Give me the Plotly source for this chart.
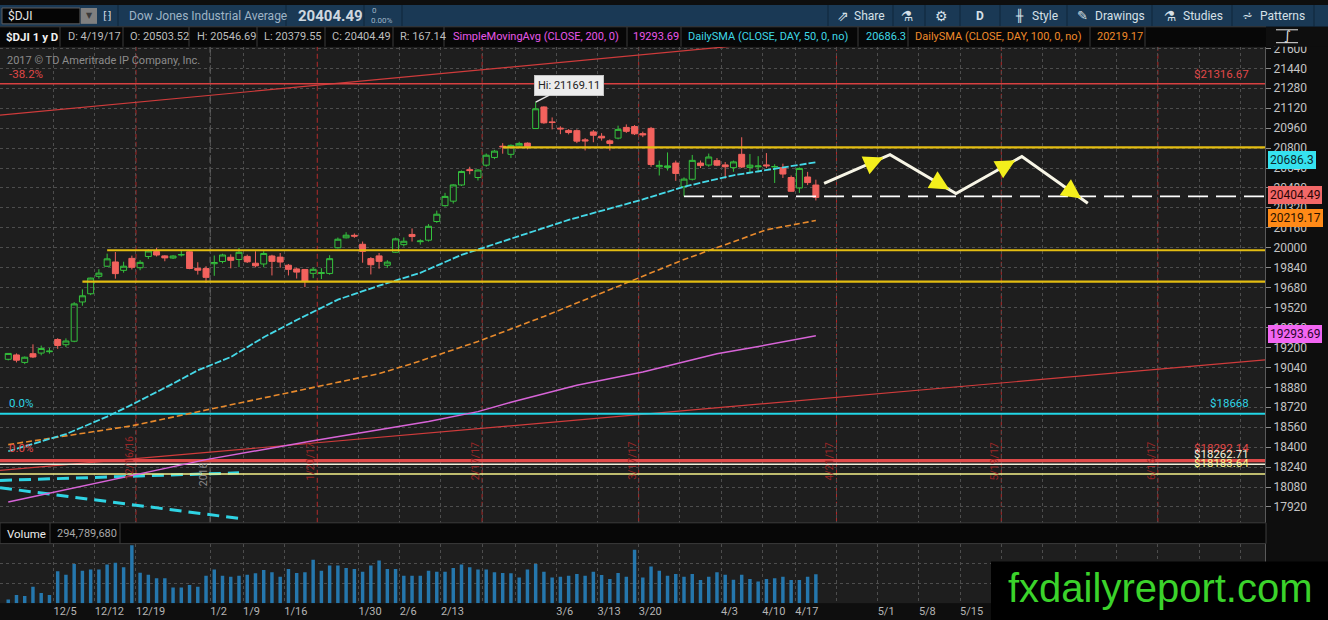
import plotly.graph_objects as go

W, H = 1328, 620
FONT = "Roboto"

# ---------------- data ----------------
dates = ["11/25/16", "11/28/16", "11/29/16", "11/30/16",
         "12/1/16", "12/2/16", "12/5/16", "12/6/16", "12/7/16", "12/8/16", "12/9/16", "12/12/16", "12/13/16",
         "12/14/16", "12/15/16", "12/16/16", "12/19/16", "12/20/16", "12/21/16", "12/22/16", "12/23/16",
         "12/27/16", "12/28/16", "12/29/16", "12/30/16",
         "1/3/17", "1/4/17", "1/5/17", "1/6/17", "1/9/17", "1/10/17", "1/11/17", "1/12/17", "1/13/17",
         "1/17/17", "1/18/17", "1/19/17", "1/20/17", "1/23/17", "1/24/17", "1/25/17", "1/26/17", "1/27/17",
         "1/30/17", "1/31/17",
         "2/1/17", "2/2/17", "2/3/17", "2/6/17", "2/7/17", "2/8/17", "2/9/17", "2/10/17", "2/13/17", "2/14/17",
         "2/15/17", "2/16/17", "2/17/17", "2/21/17", "2/22/17", "2/23/17", "2/24/17", "2/27/17", "2/28/17",
         "3/1/17", "3/2/17", "3/3/17", "3/6/17", "3/7/17", "3/8/17", "3/9/17", "3/10/17", "3/13/17", "3/14/17",
         "3/15/17", "3/16/17", "3/17/17", "3/20/17", "3/21/17", "3/22/17", "3/23/17", "3/24/17", "3/27/17",
         "3/28/17", "3/29/17", "3/30/17", "3/31/17",
         "4/3/17", "4/4/17", "4/5/17", "4/6/17", "4/7/17", "4/10/17", "4/11/17", "4/12/17", "4/13/17",
         "4/17/17", "4/18/17", "4/19/17"]

future_dates = ["4/20/17", "4/21/17", "4/24/17", "4/25/17", "4/26/17", "4/27/17", "4/28/17",
                "5/1/17", "5/2/17", "5/3/17", "5/4/17", "5/5/17", "5/8/17", "5/9/17", "5/10/17", "5/11/17",
                "5/12/17", "5/15/17", "5/16/17", "5/17/17", "5/18/17", "5/19/17", "5/22/17", "5/23/17",
                "5/24/17", "5/25/17", "5/26/17", "5/30/17", "5/31/17", "6/1/17", "6/2/17", "6/5/17", "6/6/17",
                "6/7/17", "6/8/17", "6/9/17", "6/12/17", "6/13/17", "6/14/17", "6/15/17", "6/16/17",
                "6/19/17", "6/20/17", "6/21/17", "6/22/17", "6/23/17", "6/26/17", "6/27/17", "6/28/17",
                "6/29/17", "6/30/17", "7/3/17", "7/5/17", "7/6/17", "7/7/17"]

opens = [19105, 19140, 19080, 19150, 19155, 19166, 19264, 19222, 19250, 19565,
         19631, 19771, 19852, 19886, 19819, 19915, 19840, 19930, 19970, 19935,
         19918, 19943, 19968, 19835, 19833, 19872, 19890, 19924, 19906, 19931,
         19876, 19870, 19934, 19925, 19860, 19830, 19826, 19795, 19794, 19794,
         20000, 20080, 20100, 20028, 19913, 19935, 19860, 19964, 20025, 20107,
         20049, 20061, 20211, 20338, 20374, 20504, 20627, 20564, 20663, 20725,
         20815, 20750, 20818, 20840, 20957, 21130, 21010, 20960, 20942, 20940,
         20866, 20930, 20895, 20858, 20880, 20966, 20973, 20916, 20958, 20650,
         20645, 20680, 20490, 20550, 20680, 20664, 20699, 20665, 20643, 20750,
         20645, 20650, 20665, 20650, 20643, 20564, 20480, 20568, 20503.52]

highs = [19153, 19152, 19128, 19225, 19215, 19197, 19274, 19273, 19564, 19666,
         19760, 19828, 19953, 19966, 19888, 19937, 19900, 19987, 19999, 19940,
         19940, 19981, 19981, 19884, 19852, 19938, 19952, 19947, 19999, 19945,
         19972, 19973, 19944, 19958, 19870, 19840, 19826, 19843, 19836, 19940,
         20082, 20125, 20115, 20050, 19925, 19958, 19900, 20081, 20083, 20155,
         20068, 20190, 20298, 20441, 20510, 20620, 20650, 20630, 20757, 20786,
         20840, 20830, 20851, 20846, 21169.11, 21135, 21046, 20975, 20952, 20950,
         20880, 20945, 20920, 20870, 20980, 20990, 20985, 20932, 20970, 20700,
         20765, 20700, 20565, 20745, 20700, 20756, 20720, 20688, 20700, 20887,
         20752, 20735, 20760, 20670, 20675, 20580, 20645, 20609, 20546.69]

lows = [19096, 19080, 19066, 19115, 19137, 19150, 19189, 19203, 19242, 19535,
        19620, 19752, 19847, 19752, 19800, 19826, 19820, 19910, 19930, 19892,
        19910, 19930, 19828, 19785, 19718, 19775, 19875, 19835, 19845, 19878,
        19843, 19844, 19778, 19840, 19778, 19753, 19685, 19756, 19749, 19784,
        19995, 20075, 20080, 19880, 19786, 19832, 19839, 19960, 20010, 20050,
        20025, 20050, 20200, 20330, 20355, 20496, 20590, 20540, 20650, 20711,
        20755, 20720, 20800, 20790, 20957, 20995, 20950, 20912, 20910, 20840,
        20781, 20847, 20860, 20780, 20870, 20922, 20905, 20888, 20650, 20580,
        20620, 20537, 20412.8, 20540, 20640, 20650, 20655, 20555, 20610, 20640,
        20600, 20605, 20640, 20520, 20560, 20450, 20440, 20503, 20379.55]

closes = [19152.14, 19097.90, 19121.60, 19123.58, 19191.93, 19170.42, 19216.24, 19251.78, 19549.62, 19614.81,
          19756.85, 19796.43, 19911.21, 19792.53, 19852.24, 19843.41, 19883.06, 19974.62, 19941.96, 19918.88,
          19933.81, 19945.04, 19833.68, 19819.78, 19762.60, 19881.76, 19942.16, 19899.29, 19963.80, 19887.38,
          19855.53, 19954.28, 19891.00, 19885.73, 19826.77, 19804.72, 19732.40, 19827.25, 19799.85, 19912.71,
          20068.51, 20100.91, 20093.78, 19971.13, 19864.09, 19890.94, 19884.91, 20071.46, 20052.42, 20090.29,
          20054.34, 20172.40, 20269.37, 20412.16, 20504.41, 20611.86, 20619.77, 20624.05, 20743.00, 20775.60,
          20810.32, 20821.76, 20837.44, 20812.24, 21115.55, 21002.97, 21005.71, 20954.34, 20924.76, 20855.73,
          20858.19, 20902.98, 20881.48, 20837.37, 20950.10, 20934.55, 20914.62, 20905.86, 20668.01, 20661.30,
          20656.58, 20596.72, 20550.98, 20701.50, 20659.32, 20728.49, 20663.22, 20650.21, 20689.24, 20648.15,
          20662.95, 20656.10, 20658.02, 20651.30, 20591.86, 20453.25, 20636.92, 20523.28, 20404.49]

volume_m = [38, 83, 72, 166, 104, 83, 324, 290, 400, 331,
            342, 342, 393, 411, 366, 590, 311, 290, 255, 255,
            159, 159, 186, 166, 279, 342, 279, 269, 279, 290,
            304, 338, 314, 269, 348, 307, 314, 442, 331, 383,
            383, 359, 348, 321, 383, 435, 348, 348, 279, 279,
            279, 331, 321, 321, 359, 393, 366, 342, 342, 314,
            307, 304, 262, 342, 400, 321, 262, 269, 279, 297,
            279, 321, 286, 245, 307, 269, 545, 262, 373, 331,
            279, 297, 269, 297, 235, 269, 314, 290, 238, 290,
            245, 221, 245, 255, 269, 235, 235, 269, 294.79]
volume_last = "294,789,680"

sma50_dates = ["11/25/16", "12/6/16", "12/13/16", "12/16/16", "12/23/16", "12/29/16", "1/5/17", "1/11/17",
               "1/18/17", "1/25/17", "2/1/17", "2/8/17", "2/15/17", "2/23/17", "3/7/17", "3/20/17",
               "3/27/17", "4/4/17", "4/11/17", "4/19/17"]
sma50_vals = [18367, 18505, 18645, 18741, 18910, 19017, 19123, 19282, 19420, 19584, 19696, 19799, 19943,
              20050, 20224, 20388, 20490, 20582, 20635, 20686.3]

sma100_dates = ["11/25/16", "12/16/16", "12/30/16", "1/25/17", "2/1/17", "2/7/17", "2/17/17", "3/2/17",
                "3/14/17", "3/20/17", "3/27/17", "4/3/17", "4/10/17", "4/19/17"]
sma100_vals = [18420, 18571, 18698, 18924, 18990, 19070, 19248, 19449, 19667, 19773, 19906, 20025, 20144,
               20219.17]

sma200_dates = ["11/25/16", "12/30/16", "1/20/17", "2/9/17", "2/17/17", "2/24/17", "3/8/17", "3/20/17",
                "3/31/17", "4/6/17", "4/19/17"]
sma200_vals = [17960, 18300, 18451, 18606, 18685, 18760, 18897, 19003, 19149, 19195, 19293.69]

price_ticks = [17920, 18080, 18240, 18400, 18560, 18720, 18880, 19040, 19200, 19360, 19520, 19680,
               19840, 20000, 20160, 20320, 20480, 20640, 20800, 20960, 21120, 21280, 21440, 21600]

week_labels = ["12/5", "12/12", "12/19", "1/2", "1/9", "1/16", "1/30", "2/6", "2/13", "3/6", "3/13", "3/20",
               "4/3", "4/10", "4/17", "5/1", "5/8", "5/15"]
week_first_days = ["12/5/16", "12/12/16", "12/19/16", "1/3/17", "1/9/17", "1/17/17", "1/30/17", "2/6/17",
                   "2/13/17", "3/6/17", "3/13/17", "3/20/17", "4/3/17", "4/10/17", "4/17/17", "5/1/17",
                   "5/8/17", "5/15/17"]
unlabeled_week_days = ["2/21/17", "2/27/17", "3/27/17", "4/24/17", "5/22/17", "5/30/17", "6/5/17",
                       "6/12/17", "6/19/17", "6/26/17", "7/3/17"]

opex_dates = ["12/16/16", "1/20/17", "2/17/17", "3/17/17", "4/21/17", "5/19/17", "6/16/17"]
year_break_day = "1/3/17"
year_label = "2016"

level_prices = [21316.67, 18668.00, 18292.14, 18262.71, 18183.64]
level_left_labels = ["-38.2%", "0.0%", "0.0%", "", ""]

support_starts = ["12/8/16", "12/13/16", "2/23/17"]
support_prices = [19728, 19980, 20805]
neckline_start = "3/27/17"
neckline_price = 20412.80

channel_upper_dates = ["11/25/16", "3/31/17"]
channel_upper_prices = [21071, 21606]
channel_lower_dates = ["11/25/16", "6/30/17"]
channel_lower_prices = [18219, 19080]
ray_a_dates = ["11/25/16", "1/6/17"]
ray_a_prices = [18135, 18194]
ray_b_dates = ["11/25/16", "1/6/17"]
ray_b_prices = [18066, 17828]

forecast_dates = ["4/20/17", "5/2/17", "5/12/17", "5/24/17", "6/6/17"]
forecast_prices = [20516, 20747, 20436, 20733, 20357]

# ---------------- helpers ----------------
day_list = dates + future_dates
pos = {d: i for i, d in enumerate(day_list)}
xs = [pos[d] for d in dates]
X_MIN, X_MAX = -1.0, 152.5
Y_MIN, Y_MAX = 17793, 21614
XD = 1265 / W

shapes, annots = [], []


def px(x):
    return x / W


def py(y):
    return 1 - y / H


def rect(x0, y0, x1, y1, fill, line=None, layer="above"):
    shapes.append(dict(type="rect", xref="paper", yref="paper", x0=px(x0), x1=px(x1), y0=py(y1), y1=py(y0),
                       fillcolor=fill, line=dict(width=1 if line else 0, color=line or fill), layer=layer))


def seg(x0, y0, x1, y1, color, width=1, layer="above"):
    shapes.append(dict(type="line", xref="paper", yref="paper", x0=px(x0), x1=px(x1), y0=py(y0), y1=py(y1),
                       line=dict(color=color, width=width), layer=layer))


def text(x, y, s, color, size=11, bold=False, anchor="left", family=FONT):
    annots.append(dict(xref="paper", yref="paper", x=px(x), y=py(y), text=("<b>%s</b>" % s) if bold else s,
                       showarrow=False, xanchor=anchor, yanchor="middle",
                       font=dict(color=color, size=size, family=family)))


def line_through(ds, ps, x_from, x_to):
    x0, x1 = pos[ds[0]], pos[ds[1]]
    k = (ps[1] - ps[0]) / (x1 - x0)
    return [x_from, x_to], [ps[0] + k * (x_from - x0), ps[0] + k * (x_to - x0)]


fig = go.Figure()


def add_line(x, y, color, width, dash="solid"):
    fig.add_trace(go.Scatter(x=x, y=y, mode="lines", line=dict(color=color, width=width, dash=dash),
                             xaxis="x", yaxis="y", hoverinfo="skip", showlegend=False))


# trend channel & rays
add_line(*line_through(channel_upper_dates, channel_upper_prices, X_MIN, X_MAX), "#cf3b3b", 1.2)
add_line(*line_through(channel_lower_dates, channel_lower_prices, X_MIN, X_MAX), "#cf3b3b", 1.2)
add_line(*line_through(ray_a_dates, ray_a_prices, X_MIN, pos[ray_a_dates[1]]), "#2fd3e3", 3, "12px,7px")
add_line(*line_through(ray_b_dates, ray_b_prices, X_MIN, pos[ray_b_dates[1]]), "#2fd3e3", 3, "12px,7px")

# horizontal fib levels
level_styles = [("#d84040", 1.5), ("#22d6e6", 2.2), ("#e04a4a", 3.2), ("#f2f0dc", 1.5), ("#f5f08a", 1.5)]
for p, (c, w) in zip(level_prices, level_styles):
    add_line([X_MIN, X_MAX], [p, p], c, w)

# moving averages
add_line([pos[d] for d in sma200_dates], sma200_vals, "#d864d8", 1.5)
add_line([pos[d] for d in sma100_dates], sma100_vals, "#e88a2c", 1.6, "6px,3px")
add_line([pos[d] for d in sma50_dates], sma50_vals, "#45d9e8", 1.8, "7px,2px")

# candles
fig.add_trace(go.Candlestick(x=xs, open=opens, high=highs, low=lows, close=closes, xaxis="x", yaxis="y",
                             increasing=dict(line=dict(color="#34c23d", width=1), fillcolor="rgba(0,0,0,0)"),
                             decreasing=dict(line=dict(color="#f2625d", width=1), fillcolor="#f2625d"),
                             whiskerwidth=0, hoverinfo="skip", showlegend=False))

# support lines and neckline
for d, p in zip(support_starts, support_prices):
    add_line([pos[d], X_MAX], [p, p], "#e3bd12", 2.2)
add_line([pos[neckline_start], X_MAX], [neckline_price, neckline_price], "#ffffff", 1.8, "20px,8px")

# forecast zig-zag
fx = [pos[d] for d in forecast_dates]
add_line(fx, forecast_prices, "#f7f5e6", 3)
for i in range(len(fx) - 1):
    a, b = (fx[i], forecast_prices[i]), (fx[i + 1], forecast_prices[i + 1])
    tip = (a[0] + 0.9 * (b[0] - a[0]), a[1] + 0.9 * (b[1] - a[1]))
    tail = (a[0] + 0.78 * (b[0] - a[0]), a[1] + 0.78 * (b[1] - a[1]))
    annots.append(dict(xref="x", yref="y", axref="x", ayref="y", x=tip[0], y=tip[1], ax=tail[0], ay=tail[1],
                       text="", showarrow=True, arrowhead=2, arrowsize=1.3, arrowwidth=3.0,
                       arrowcolor="#f4ef1c"))

# volume
fig.add_trace(go.Bar(x=xs, y=volume_m, xaxis="x2", yaxis="y2", marker=dict(color="#2577ad", line=dict(width=0)),
                     width=0.42, hoverinfo="skip", showlegend=False))

# vertical expiration lines and year break
for d in opex_dates:
    xv = pos[d] + 0.5
    shapes.append(dict(type="line", xref="x", yref="y domain", x0=xv, x1=xv, y0=0, y1=1,
                       line=dict(color="#b22a2a", width=1, dash="5px,3px"), layer="below"))
    annots.append(dict(xref="x", yref="paper", x=xv, y=py(481), text=d, textangle=-90, showarrow=False,
                       xshift=-7, font=dict(color="#9a2626", size=10.5, family=FONT)))
xb = pos[year_break_day] - 0.5
shapes.append(dict(type="line", xref="x", yref="y domain", x0=xb, x1=xb, y0=0, y1=1,
                   line=dict(color="#7c7c7c", width=1, dash="6px,4px"), layer="below"))
annots.append(dict(xref="x", yref="paper", x=xb, y=py(487), text=year_label, textangle=-90, showarrow=False,
                   xshift=-7, font=dict(color="#8a8a8a", size=10.5, family=FONT)))

# level labels
level_text_colors = ["#e04848", "#2fd6e6", "#e04848", "#f2f0dc", "#f5f08a"]
level_shift = [10, 11, 13, 10, 11]
for p, lab, c, s in zip(level_prices, level_left_labels, level_text_colors, level_shift):
    annots.append(dict(xref="paper", yref="y", x=px(1251), y=p, yshift=s,
                       text="$%s" % ("%.2f" % p).rstrip("0").rstrip("."),
                       showarrow=False, xanchor="right", yanchor="middle",
                       font=dict(color=c, size=11.5, family=FONT)))
    if lab:
        annots.append(dict(xref="paper", yref="y", x=px(7), y=p, yshift=s, text=lab, showarrow=False,
                           xanchor="left", yanchor="middle", font=dict(color=c, size=11.5, family=FONT)))

# hi bubble
hi_i = highs.index(max(highs))
annots.append(dict(xref="x", yref="y", x=xs[hi_i], y=highs[hi_i], text="Hi: %.2f" % highs[hi_i], ax=33, ay=-17,
                   showarrow=True, arrowhead=0, arrowwidth=1.5, arrowcolor="#e6e6e6", bgcolor="#ececec",
                   bordercolor="#c4c4c4", borderpad=3, font=dict(color="#222222", size=11, family=FONT)))

text(5, 56, "2017 © TD Ameritrade IP Company, Inc.", "#8c8c8c", 11)

# price boxes on right axis
for val, bg, fg in [(sma50_vals[-1], "#35e2ef", "#0b2a2d"), (closes[-1], "#f26868", "#2a0505"),
                    (sma100_vals[-1], "#ff8a17", "#2a1200"), (sma200_vals[-1], "#f266f2", "#2a052a")]:
    annots.append(dict(xref="paper", yref="y", x=px(1268), y=val, yshift=2,
                       text=("%.2f" % val).rstrip("0").rstrip("."),
                       showarrow=False, xanchor="left", yanchor="middle", bgcolor=bg, bordercolor=bg,
                       borderpad=1, font=dict(color=fg, size=12, family=FONT)))

# ---------------- chrome (header, panes) ----------------
# header row 1
rect(0, 0, W, 22, "#1a3955")
rect(2, 3, 80, 19, "#050505", "#5e5e5e")
text(6, 11, "$DJI", "#e6e6e6", 12)
rect(81, 3, 97, 19, "#808080")
text(89, 11, "▼", "#3a3a3a", 8, anchor="center", family="DejaVu Sans")
text(107, 11, "⁅⁆", "#cfd8e0", 11, anchor="center", family="DejaVu Sans")
for xs_ in [118, 286, 364, 402]:
    seg(xs_, 0, xs_, 22, "#0f263b")
text(127, 11, "Dow Jones Industrial Average", "#9fb4c6", 12)
text(296, 11, "%.2f" % closes[-1], "#cfd8e0", 15, bold=True)
text(370, 6, "0", "#9fb4c6", 8)
text(369, 16, "0.00%", "#9fb4c6", 8)
for xs_ in [828, 893, 925, 960, 1000, 1067, 1152, 1232, 1314]:
    seg(xs_, 0, xs_, 22, "#0f263b")
text(843, 11, "⇗", "#d6e0e8", 14, anchor="center", family="DejaVu Sans")
text(852, 11, "Share", "#d6e0e8", 12)
text(907, 11, "⚗", "#d6e0e8", 14, anchor="center", family="DejaVu Sans")
text(941, 11, "⚙", "#d6e0e8", 14, anchor="center", family="DejaVu Sans")
text(980, 11, "D", "#d6e0e8", 12, bold=True, anchor="center")
text(1019, 11, "╫", "#d6e0e8", 12, anchor="center", family="DejaVu Sans")
text(1030, 11, "Style", "#d6e0e8", 12)
text(1082, 11, "✎", "#d6e0e8", 13, anchor="center", family="DejaVu Sans")
text(1093, 11, "Drawings", "#d6e0e8", 12)
text(1170, 11, "⚗", "#d6e0e8", 14, anchor="center", family="DejaVu Sans")
text(1181, 11, "Studies", "#d6e0e8", 12)
text(1247, 11, "⩫", "#d6e0e8", 13, anchor="center", family="DejaVu Sans")
text(1258, 11, "Patterns", "#d6e0e8", 12)

# header row 2
rect(0, 22, 1266, 42, "#070707")
rect(1266, 22, W, 42, "#0e0e0e")
seg(0, 22, 1266, 22, "#3c3c3c")
for xs_ in [60, 123, 189, 257, 325, 393, 444, 627, 681, 858, 908, 1090, 1145]:
    seg(xs_, 22, xs_, 42, "#3c3c3c")
text(4, 32, "$DJI 1 y D", "#f0f0f0", 11.5, bold=True)
text(66, 32, "D: %s" % dates[-1], "#bdbdbd", 11)
text(128, 32, "O: %.2f" % opens[-1], "#bdbdbd", 11)
text(195, 32, "H: %.2f" % highs[-1], "#bdbdbd", 11)
text(262, 32, "L: %.2f" % lows[-1], "#bdbdbd", 11)
text(330, 32, "C: %.2f" % closes[-1], "#bdbdbd", 11)
text(398, 32, "R: %.2f" % (highs[-1] - lows[-1]), "#bdbdbd", 11)
text(451, 32, "SimpleMovingAvg (CLOSE, 200, 0)", "#e857e8", 11)
text(631, 32, "%.2f" % sma200_vals[-1], "#e857e8", 11)
text(686, 32, "DailySMA (CLOSE, DAY, 50, 0, no)", "#3fd8e6", 11)
text(864, 32, ("%.2f" % sma50_vals[-1]).rstrip("0"), "#3fd8e6", 11)
text(913, 32, "DailySMA (CLOSE, DAY, 100, 0, no)", "#f08a2a", 11)
text(1095, 32, "%.2f" % sma100_vals[-1], "#f08a2a", 11)
text(1287, 31, "∫", "#e6e6e6", 13, anchor="center", family="DejaVu Sans")
seg(1276, 25, 1298, 25, "#e6e6e6")
seg(1276, 38, 1298, 38, "#e6e6e6")

# volume header
rect(0, 522, 1266, 543, "#070707", "#3c3c3c")
seg(50, 522, 50, 543, "#3c3c3c")
seg(120, 522, 120, 543, "#3c3c3c")
text(5, 533, "Volume", "#ececec", 11.5)
text(55, 533, volume_last, "#a8a8a8", 11)

# watermark
rect(991, 561, W, H, "#000000")
text(1160, 588, "fxdailyreport.com", "#3bd32b", 40, family="Liberation Sans", anchor="center")

# ---------------- axes ----------------
grid_days = week_first_days + unlabeled_week_days
grid_x = [pos[d] - 0.5 for d in grid_days]
grid_text = week_labels + [""] * len(unlabeled_week_days)
GRID = "#4d4d4d"

fig.update_layout(
    width=W, height=H, margin=dict(l=0, r=0, t=0, b=0),
    paper_bgcolor="#0e0e0e", plot_bgcolor="#1e1e1e",
    showlegend=False, hovermode=False, boxgap=0.15, boxgroupgap=0.15,
    font=dict(family=FONT, color="#bdbdbd"),
    xaxis=dict(domain=[0, XD], range=[X_MIN, X_MAX], anchor="y", showticklabels=False, ticks="",
               tickvals=grid_x, showgrid=True, gridcolor=GRID, griddash="dot", gridwidth=1,
               zeroline=False, showline=False, rangeslider=dict(visible=False), fixedrange=True),
    xaxis2=dict(domain=[0, XD], range=[X_MIN, X_MAX], anchor="y2", tickvals=grid_x, ticktext=grid_text,
                ticklabelposition="outside right", ticks="",
                tickfont=dict(color="#b5b5b5", size=11, family=FONT),
                showgrid=True, gridcolor=GRID, griddash="dot", gridwidth=1, zeroline=False, showline=False,
                fixedrange=True),
    yaxis=dict(domain=[1 - 522 / H, 1 - 42 / H], range=[Y_MIN, Y_MAX], side="right", anchor="x",
               tickvals=price_ticks, ticktext=[str(v) for v in price_ticks], ticks="outside", ticklen=5,
               tickcolor="#8a8a8a", tickfont=dict(color="#c4c4c4", size=12, family=FONT),
               showgrid=True, gridcolor=GRID, griddash="dot", gridwidth=1, zeroline=False,
               showline=True, linecolor="#5a5a5a", linewidth=1, fixedrange=True),
    yaxis2=dict(domain=[1 - 603 / H, 1 - 543 / H], range=[0, 607], side="right", anchor="x2",
                tickvals=[200, 400], showticklabels=False, ticks="", showgrid=True, gridcolor=GRID,
                griddash="dot", zeroline=False, showline=True, linecolor="#5a5a5a", linewidth=1,
                fixedrange=True),
    shapes=shapes, annotations=annots,
)

fig.write_html("out.html", config={"displayModeBar": False},
               post_script="document.body.style.margin='0';document.body.style.padding='0';"
                           "document.body.style.background='#0e0e0e';")
